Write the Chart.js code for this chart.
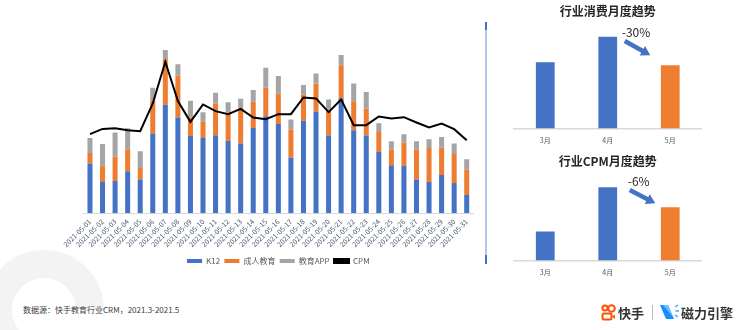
<!DOCTYPE html>
<html><head><meta charset="utf-8">
<script src="https://cdn.jsdelivr.net/npm/chart.js@4.4.0/dist/chart.umd.min.js"></script>
<style>
body{margin:0;background:#fff;width:751px;height:330px;overflow:hidden;position:relative;font-family:"Noto Sans CJK SC","Noto Sans",sans-serif;}
.abs{position:absolute;}
#ring{position:absolute;left:-16px;top:250px;width:120px;height:120px;box-sizing:border-box;border:28px solid #f3f3f3;border-bottom-color:transparent;border-radius:50%;transform:rotate(-45deg);}
#divider{position:absolute;left:485px;top:22px;width:2px;height:242px;background:linear-gradient(#4472c4 0,#4472c4 8px,#b4c7e7 8px,#b4c7e7 233px,#4472c4 233px);}
#src{position:absolute;left:23px;top:304px;font-size:8px;color:#404040;white-space:nowrap;}
#logo{position:absolute;left:601px;top:302px;height:20px;display:flex;align-items:center;font-size:13px;color:#333;font-weight:bold;white-space:nowrap;}
</style></head>
<body>
<div id="ring"></div>
<div id="divider"></div>
<canvas id="main" class="abs" style="left:55px;top:25px" width="432" height="250"></canvas>
<canvas id="c1" class="abs" style="left:500px;top:0px" width="210" height="153"></canvas>
<canvas id="c2" class="abs" style="left:500px;top:150px" width="210" height="135"></canvas>
<div id="src">数据源：快手教育行业CRM，2021.3-2021.5</div>
<div id="logo">
<svg width="15" height="17" viewBox="0 0 15 17"><circle cx="4" cy="4" r="2.6" fill="none" stroke="#ff5000" stroke-width="2"/><circle cx="10.5" cy="4.5" r="3.3" fill="none" stroke="#ff5000" stroke-width="2"/><rect x="1.5" y="9.5" width="9" height="6" rx="1.5" fill="none" stroke="#ff5000" stroke-width="2"/><path d="M11 12.5 L14 10.5 L14 15 Z" fill="#ff5000"/></svg>
<span style="margin-left:2px">快手</span>
<span style="display:inline-block;width:1px;height:15px;background:#bbb;margin:0 7px 0 8px"></span>
<svg width="19" height="16" viewBox="0 0 19 16"><path d="M0 1 L8 1 L14 15 L6 15 Z" fill="#1a8cff"/><path d="M3 1 L8 1 L13 13 Z" fill="#6ec1ff"/><path d="M15 3 L18 1 M15.5 7 L19 7 M15 11 L18 13" stroke="#3fa9ff" stroke-width="1.5"/></svg>
<span style="margin-left:2px;font-weight:bold">磁力引擎</span>
</div>
<script>
const dates = ['2021-05-01','2021-05-02','2021-05-03','2021-05-04','2021-05-05','2021-05-06','2021-05-07','2021-05-08','2021-05-09','2021-05-10','2021-05-11','2021-05-12','2021-05-13','2021-05-14','2021-05-15','2021-05-16','2021-05-17','2021-05-18','2021-05-19','2021-05-20','2021-05-21','2021-05-22','2021-05-23','2021-05-24','2021-05-25','2021-05-26','2021-05-27','2021-05-28','2021-05-29','2021-05-30','2021-05-31'];
const k12 = [49.7,31.3,32.3,42,33.7,79.7,108.3,95.7,77.3,75.3,78,72.3,69.7,85.3,97,89.3,55.7,92.3,101.3,77.7,114.3,83,77.7,61.3,48,47.3,33.7,31.3,38.3,30.3,18.3];
const adultEdu = [10.6,16.4,24.4,22,11.6,33.3,45.4,41.6,18.4,16,31.7,28,35,26,28.3,30.4,28,26,28.4,26,33.4,29,27,20,15.7,23.4,30,34,27.4,29,25.4];
const eduApp = [15,21.6,24,21,16.7,12.3,9.3,11.4,16.6,9.7,10.6,10.7,9.6,11.7,20,17.3,10,9.7,10,10,10.3,17.7,16.3,8.7,8.3,8.3,8.3,8.7,10.6,10.4,10.3];
const cpm = [79,84.3,85,83,82,109.7,151.3,112,91.3,108.7,102,99,104.3,95.7,94,99,99,115.7,114.7,101,113.7,88,88,96.7,94.7,96,90.7,85.7,89.7,84,73];

const months = ['3月','4月','5月'];
const spendMonthly = [66.7,92.3,63.7];
const cpmMonthly = [29.3,73.7,53.7];
const spendChange = '-30%';
const cpmChange = '-6%';

const BLUE='#4472c4', ORANGE='#ed7d31', GRAY='#a5a5a5';

const main = new Chart(document.getElementById('main'), {
  data: {
    labels: dates,
    datasets: [
      {type:'bar', label:'K12', data:k12, backgroundColor:BLUE, order:1},
      {type:'bar', label:'成人教育', data:adultEdu, backgroundColor:ORANGE, order:1},
      {type:'bar', label:'教育APP', data:eduApp, backgroundColor:GRAY, order:1},
      {type:'line', label:'CPM', data:cpm, borderColor:'#000', backgroundColor:'#000', borderWidth:2, pointRadius:0, tension:0, yAxisID:'y1', order:0}
    ]
  },
  options: {
    responsive:false, animation:false,
    layout:{padding:{left:28.7,right:14,top:8,bottom:0}},
    datasets:{bar:{barPercentage:0.4, categoryPercentage:1}},
    scales:{
      x:{stacked:true, grid:{display:false, drawTicks:false}, border:{color:'#d9d9d9'},
         ticks:{autoSkip:false, minRotation:45, maxRotation:45, font:{size:7, family:'"Noto Sans CJK SC", sans-serif'}, color:'#44546a', padding:4}},
      y:{stacked:true, display:false, min:0, max:180},
      y1:{display:false, min:0, max:180}
    },
    plugins:{
      legend:{position:'bottom', labels:{boxWidth:15, boxHeight:4, font:{size:8, family:'"Noto Sans CJK SC", sans-serif'}, color:'#595959', padding:4.3, sort:(a,b)=>a.datasetIndex-b.datasetIndex}},
      tooltip:{enabled:false}
    }
  }
});

const trendPlugin = {
  id:'trend',
  afterDatasetsDraw(chart, args, opts){
    const meta = chart.getDatasetMeta(0);
    const b2 = meta.data[1], b3 = meta.data[2];
    const ctx = chart.ctx;
    ctx.save();
    ctx.fillStyle = '#262626';
    ctx.font = '12px "Noto Sans CJK SC", sans-serif';
    ctx.textBaseline = 'middle';
    ctx.fillText(opts.text, b2.x + opts.tx, b2.y + opts.ty);
    const x1 = b2.x + opts.ax1, y1 = b2.y + opts.ay1, x2 = b3.x + opts.ax2, y2 = b3.y + opts.ay2;
    const ang = Math.atan2(y2 - y1, x2 - x1);
    ctx.strokeStyle = BLUE; ctx.fillStyle = BLUE; ctx.lineWidth = 4.5;
    ctx.beginPath(); ctx.moveTo(x1, y1); ctx.lineTo(x2 - 6*Math.cos(ang), y2 - 6*Math.sin(ang)); ctx.stroke();
    ctx.beginPath();
    ctx.moveTo(x2, y2);
    ctx.lineTo(x2 - 9*Math.cos(ang) + 5.5*Math.sin(ang), y2 - 9*Math.sin(ang) - 5.5*Math.cos(ang));
    ctx.lineTo(x2 - 9*Math.cos(ang) - 5.5*Math.sin(ang), y2 - 9*Math.sin(ang) + 5.5*Math.cos(ang));
    ctx.closePath(); ctx.fill();
    ctx.restore();
  }
};

function smallChart(id, title, values, ymax, trend){
  return new Chart(document.getElementById(id), {
    type:'bar',
    data:{labels:months, datasets:[{data:values, backgroundColor:[BLUE,BLUE,ORANGE], barPercentage:0.3, categoryPercentage:1}]},
    options:{
      responsive:false, animation:false,
      layout:{padding:{left:14,right:8.5,top:0,bottom:0}},
      scales:{
        x:{grid:{display:false, drawTicks:false}, border:{color:'#d9d9d9', width:1.5},
           ticks:{font:{size:7, family:'"Noto Sans CJK SC", sans-serif'}, color:'#595959', padding:8}},
        y:{display:false, min:0, max:ymax}
      },
      plugins:{
        legend:{display:false}, tooltip:{enabled:false},
        title:{display:true, text:title, color:'#262626', font:{size:12, weight:'bold', family:'"Noto Sans CJK SC", sans-serif'}, padding:{top:4, bottom:10.6}},
        trend:trend
      }
    },
    plugins:[trendPlugin]
  });
}
smallChart('c1','行业消费月度趋势', spendMonthly, 100, {text:spendChange, tx:14, ty:-4.7, ax1:17, ay1:4.3, ax2:-20, ay2:-10});
smallChart('c2','行业CPM月度趋势', cpmMonthly, 82, {text:cpmChange, tx:20, ty:-5.6, ax1:22, ay1:2.7, ax2:-15, ay2:-4});
</script>
</body></html>
